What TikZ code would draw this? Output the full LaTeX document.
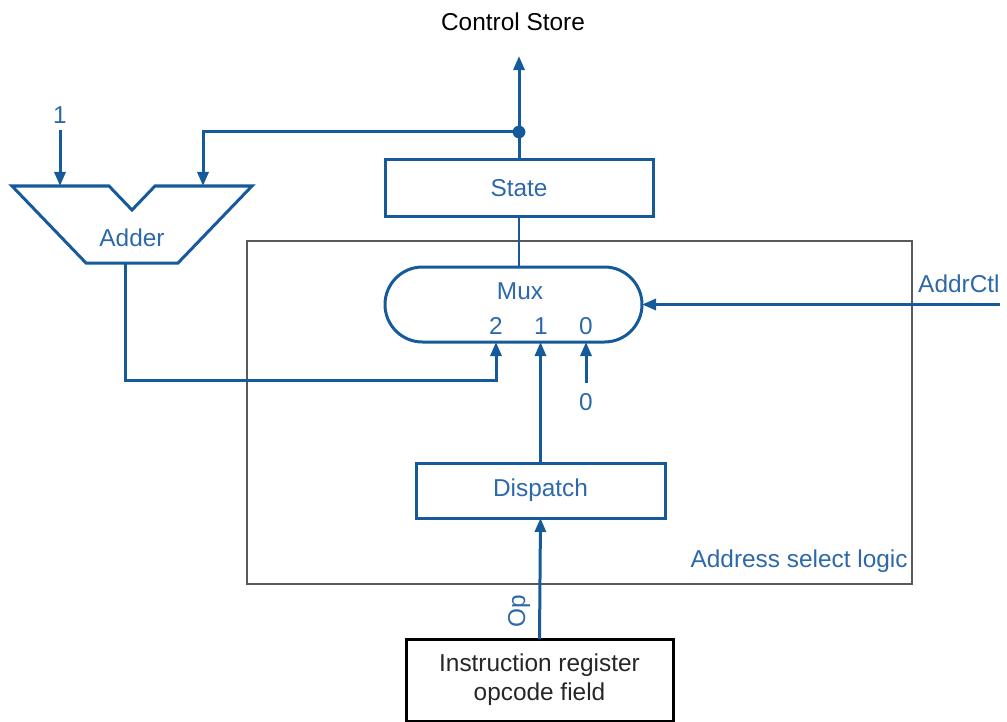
\documentclass[tikz,border=0pt]{standalone}
\usepackage{fontspec}
\setmainfont{Liberation Sans}
\usetikzlibrary{arrows.meta}
\definecolor{wire}{RGB}{22,90,155}
\definecolor{label}{RGB}{45,105,170}
\tikzstyle{Arrow}=[-{Triangle[length=7pt,width=5.5pt]}]

\begin{document}
\begin{tikzpicture}[
  x=0.5pt, y=-0.5pt,
  font=\fontsize{12.2}{14.5}\selectfont,
  Wire/.style={draw=wire, line width=1.5pt},
  Box/.style={draw=wire, line width=1.5pt, text=label, inner sep=0, outer sep=0},
  Txt/.style={text=label, inner sep=0}
]
\useasboundingbox (0,0) rectangle (1007,722);

% address select logic frame
\node[draw=black!65, line width=0.8pt, minimum width=332.5pt, minimum height=171.5pt,
  inner sep=0, outer sep=0] (frame) at (579.5,412.5) {};
\node[Txt, anchor=base east] (asl) at (908,567) {Address select logic};

% blocks
\node[Box, minimum width=134pt, minimum height=28.5pt] (state) at (519,188) {State};
\node[Box, minimum width=128.5pt, minimum height=37.5pt, rounded corners=18.75pt] (mux) at (513.5,304.5) {};
\node[Box, minimum width=124.5pt, minimum height=27.5pt] (dispatch) at (540.5,490.5) {Dispatch};
\node[draw=black, line width=1.5pt, minimum width=133.5pt, minimum height=41pt, align=center,
  inner sep=0, outer sep=0, text=black!85] (ir) at (539.5,680) {Instruction register\\opcode field};

% mux labels
\node[Txt] (muxname) at (520,291) {Mux};
\node[Txt] (sel2) at (496,326) {2};
\node[Txt] (sel1) at (541,326) {1};
\node[Txt] (sel0) at (586,326) {0};

% adder
\coordinate (adderA) at (60,186);
\coordinate (adderB) at (203,186);
\coordinate (adderOut) at (125,263);
\draw[Wire, line join=miter] (12,186) -- (109,186) -- (132,210) -- (155,186) -- (252,186)
  -- (178,263) -- (86,263) -- cycle;
\node[Txt] (adder) at (132,238) {Adder};

% top: state output and feedback
\node (cs) at (513,22) {Control Store};
\coordinate (split) at (state.north |- 0,132);
\draw[Wire, Arrow, shorten >=9pt] (state.north) -- (state.north |- cs.south);
\fill[wire] (split) circle (3.2pt);
\draw[Wire, Arrow] (split) -| (adderB);
\node[Txt] (one) at (60,115) {1};
\draw[Wire, Arrow, shorten <=3pt] (one.south) -- (adderA);

% mux inputs
\draw[Wire, Arrow] (adderOut) |- (125,380) -| (sel2 |- mux.south);
\draw[Wire, Arrow] (dispatch.north) -- (dispatch.north |- mux.south);
\node[Txt] (zero) at (586,402) {0};
\draw[Wire, Arrow, shorten <=5pt] (zero.north) -- (zero |- mux.south);
\node[Txt, anchor=south east] (addrctl) at (1000,293) {AddrCtl};
\draw[Wire, Arrow] (addrctl.south east |- mux.east) -- (mux.east);
\draw[draw=wire, line width=0.75pt] (state.south) -- (state.south |- mux.north);

% opcode into dispatch
\draw[Wire, Arrow] (ir.north) -- (dispatch.south)
  node[Txt, pos=0.23, rotate=90, anchor=south, inner sep=4pt] (op) {Op};

\end{tikzpicture}
\end{document}
